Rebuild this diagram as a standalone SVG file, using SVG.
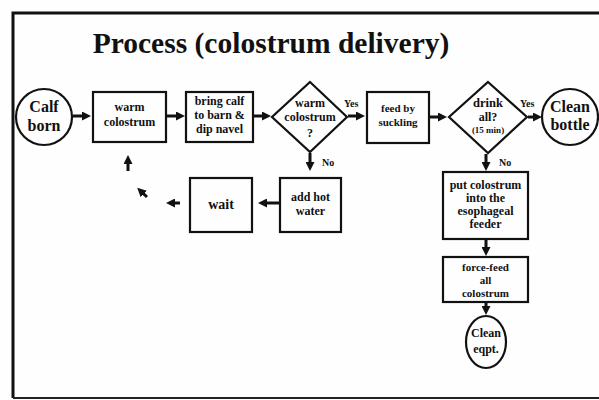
<svg xmlns="http://www.w3.org/2000/svg" width="599" height="400" viewBox="0 0 599 400">
<style>
.bx{fill:none;stroke:#111;stroke-width:2.2}
.t{font-family:"Liberation Serif","Times New Roman",serif;font-weight:bold;fill:#111;text-anchor:middle}
.s{font-size:12px}
.c{stroke:#111;stroke-width:3;fill:none;marker-end:url(#ah)}
.lb{font-family:"Liberation Serif","Times New Roman",serif;font-weight:bold;fill:#111;font-size:10px}
</style>
<defs>
<marker id="ah" viewBox="0 0 9 9" refX="2" refY="4.5" markerWidth="9" markerHeight="9" markerUnits="userSpaceOnUse" orient="auto">
<path d="M0,0 L9,4.5 L0,9 z" fill="#111"/>
</marker>
</defs>
<rect width="599" height="400" fill="#fefefe"/>
<path d="M13,398 L13,13 L610,13" fill="none" stroke="#111" stroke-width="3"/>
<line x1="13" y1="398" x2="599" y2="398" stroke="#222" stroke-width="2"/>
<text class="t" x="271" y="53" font-size="29.5">Process (colostrum delivery)</text>

<g id="calf-born">
<circle class="bx" cx="44" cy="117" r="28"/>
<text class="t" x="44" y="112" font-size="16">Calf</text>
<text class="t" x="44" y="131" font-size="16">born</text>
</g>
<g id="warm-colostrum">
<rect class="bx" x="93" y="92" width="73" height="50"/>
<text class="t s" x="129.5" y="111">warm</text>
<text class="t s" x="129.5" y="126">colostrum</text>
</g>
<g id="bring-calf">
<rect class="bx" x="186" y="92" width="67" height="50"/>
<text class="t s" x="219.5" y="105">bring calf</text>
<text class="t s" x="219.5" y="119">to barn &amp;</text>
<text class="t s" x="219.5" y="133">dip navel</text>
</g>
<g id="warm-decision">
<polygon class="bx" points="310,82 347,117 310,152 272,117"/>
<text class="t s" x="310" y="107">warm</text>
<text class="t s" x="310" y="121">colostrum</text>
<text class="t s" x="310" y="137">?</text>
</g>
<g id="feed-suckling">
<rect class="bx" x="367" y="92" width="62" height="51"/>
<text class="t" x="398" y="112" font-size="11">feed by</text>
<text class="t" x="398" y="126" font-size="11">suckling</text>
</g>
<g id="drink-decision">
<polygon class="bx" points="488,82 527,117 488,153 449,117"/>
<text class="t" x="488" y="107" font-size="12.5">drink</text>
<text class="t" x="488" y="121" font-size="12">all?</text>
<text class="t" x="488" y="133" font-size="9">(15 min)</text>
</g>
<g id="clean-bottle">
<circle class="bx" cx="570" cy="117" r="28"/>
<text class="t" x="570" y="112" font-size="16">Clean</text>
<text class="t" x="570" y="130" font-size="16">bottle</text>
</g>
<g id="add-hot-water">
<rect class="bx" x="280" y="178" width="61" height="54"/>
<text class="t s" x="310.5" y="201">add hot</text>
<text class="t s" x="310.5" y="215">water</text>
</g>
<g id="wait">
<rect class="bx" x="190" y="178" width="62" height="54"/>
<text class="t" x="221" y="209" font-size="14">wait</text>
</g>
<g id="put-colostrum">
<rect class="bx" x="443" y="172" width="85" height="67"/>
<text class="t s" x="485.5" y="189">put colostrum</text>
<text class="t s" x="485.5" y="202">into the</text>
<text class="t s" x="485.5" y="215">esophageal</text>
<text class="t s" x="485.5" y="228">feeder</text>
</g>
<g id="force-feed">
<rect class="bx" x="443" y="257" width="85" height="45"/>
<text class="t" x="485.5" y="271" font-size="11">force-feed</text>
<text class="t" x="485.5" y="284" font-size="11">all</text>
<text class="t" x="485.5" y="297" font-size="11">colostrum</text>
</g>
<g id="clean-eqpt">
<ellipse class="bx" cx="486" cy="342" rx="20" ry="26"/>
<text class="t" x="486" y="337" font-size="12">Clean</text>
<text class="t" x="486" y="353" font-size="12">eqpt.</text>
</g>

<g id="connectors">
<line class="c" x1="73" y1="116" x2="84" y2="116"/>
<line class="c" x1="167" y1="116" x2="178" y2="116"/>
<line class="c" x1="254" y1="116" x2="264" y2="116"/>
<line class="c" x1="348" y1="116" x2="358" y2="116"/>
<line class="c" x1="430" y1="117" x2="440" y2="117"/>
<line class="c" x1="528" y1="117" x2="535" y2="117"/>
<line class="c" x1="310" y1="153" x2="310" y2="164"/>
<line class="c" x1="486" y1="154" x2="486" y2="164"/>
<line class="c" x1="280" y1="203" x2="265" y2="203"/>
<line class="c" x1="180" y1="203" x2="173" y2="203"/>
<line class="c" x1="147" y1="197" x2="142.3" y2="192.6"/>
<line class="c" x1="128" y1="171" x2="128" y2="162"/>
<line class="c" x1="486" y1="239" x2="486" y2="249"/>
<line class="c" x1="486" y1="302" x2="486" y2="308"/>
<text class="lb" x="344" y="107">Yes</text>
<text class="lb" x="520" y="107">Yes</text>
<text class="lb" x="322" y="166">No</text>
<text class="lb" x="499" y="166">No</text>
</g>
</svg>
